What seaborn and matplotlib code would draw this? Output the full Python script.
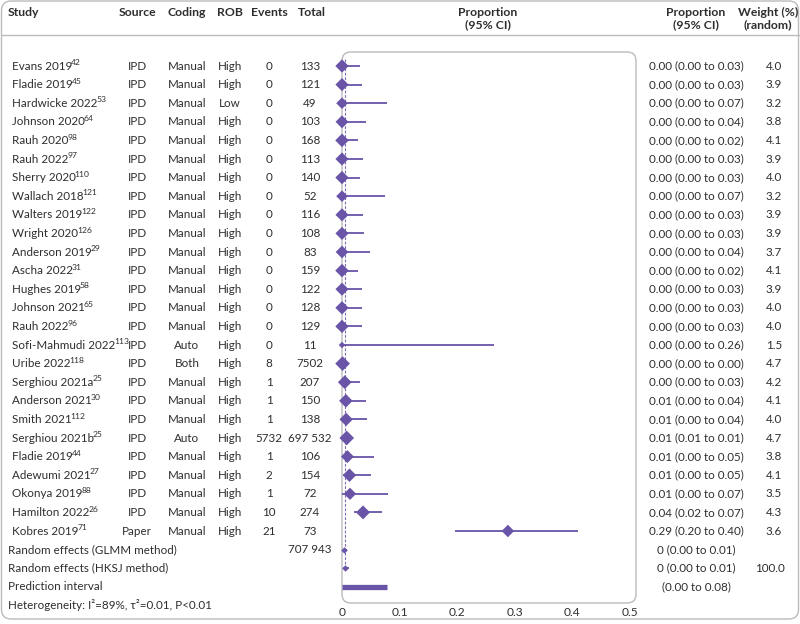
import numpy as np
import pandas as pd
import matplotlib
matplotlib.use("Agg")
import matplotlib.pyplot as plt
import matplotlib.transforms as mtransforms
from matplotlib.patches import FancyBboxPatch
from matplotlib.lines import Line2D
import seaborn as sns

# ---------------- data ----------------
studies = ["Evans 2019", "Fladie 2019", "Hardwicke 2022", "Johnson 2020", "Rauh 2020",
           "Rauh 2022", "Sherry 2020", "Wallach 2018", "Walters 2019", "Wright 2020",
           "Anderson 2019", "Ascha 2022", "Hughes 2019", "Johnson 2021", "Rauh 2022",
           "Sofi-Mahmudi 2022", "Uribe 2022", "Serghiou 2021a", "Anderson 2021", "Smith 2021",
           "Serghiou 2021b", "Fladie 2019", "Adewumi 2021", "Okonya 2019", "Hamilton 2022",
           "Kobres 2019"]
refs = [42, 45, 53, 64, 98, 97, 110, 121, 122, 126, 29, 31, 58, 65, 96, 113, 118, 25, 30,
        112, 25, 44, 27, 88, 26, 71]
sources = ["IPD"] * 25 + ["Paper"]
coding = ["Manual"] * 15 + ["Auto", "Both", "Manual", "Manual", "Manual", "Auto",
                            "Manual", "Manual", "Manual", "Manual", "Manual"]
rob = ["High", "High", "Low"] + ["High"] * 23
events = [0] * 16 + [8, 1, 1, 1, 5732, 1, 2, 1, 10, 21]
totals = ["133", "121", "49", "103", "168", "113", "140", "52", "116", "108", "83", "159",
          "122", "128", "129", "11", "7502", "207", "150", "138", "697 532", "106", "154",
          "72", "274", "73"]
# displayed estimates
est_txt = ["0.00"] * 18 + ["0.01"] * 6 + ["0.04", "0.29"]
lo_txt = ["0.00"] * 20 + ["0.01", "0.00", "0.00", "0.00", "0.02", "0.20"]
hi_txt = ["0.03", "0.03", "0.07", "0.04", "0.02", "0.03", "0.03", "0.07", "0.03", "0.03",
          "0.04", "0.02", "0.03", "0.03", "0.03", "0.26", "0.00", "0.03", "0.04", "0.04",
          "0.01", "0.05", "0.05", "0.07", "0.07", "0.40"]
weights = [4.0, 3.9, 3.2, 3.8, 4.1, 3.9, 4.0, 3.2, 3.9, 3.9, 3.7, 4.1, 3.9, 4.0, 4.0, 1.5,
           4.7, 4.2, 4.1, 4.0, 4.7, 3.8, 4.1, 3.5, 4.3, 3.6]
# plotted positions
est_plot = [0.0] * 16 + [0.001, 0.0048, 0.0067, 0.0072, 0.0082, 0.0094, 0.013, 0.0139,
                         0.0365, 0.288]
lo_plot = [0.0] * 16 + [0.0005, 0.0, 0.0, 0.0, 0.008, 0.0, 0.002, 0.0, 0.020, 0.197]
hi_plot = [0.031, 0.034, 0.078, 0.041, 0.027, 0.036, 0.031, 0.075, 0.036, 0.039, 0.048,
           0.027, 0.034, 0.034, 0.034, 0.264, 0.002, 0.031, 0.041, 0.044, 0.009, 0.056,
           0.051, 0.080, 0.070, 0.410]

summary_labels = ["Random effects (GLMM method)", "Random effects (HKSJ method)"]
summary_est = [0.004, 0.005]
summary_lo = [0.002, 0.002]
summary_hi = [0.008, 0.012]
summary_txt = ["0 (0.00 to 0.01)", "0 (0.00 to 0.01)"]
summary_weight = ["", "100.0"]
summary_total = ["707 943", ""]
pred_lo, pred_hi = 0.0, 0.078
pred_txt = "(0.00 to 0.08)"
pooled_line = 0.005
heterogeneity = "Heterogeneity: I\u00b2=89%, \u03c4\u00b2=0.01, P<0.01"
xticks = [0, 0.1, 0.2, 0.3, 0.4, 0.5]
xtick_labels = ["0", "0.1", "0.2", "0.3", "0.4", "0.5"]

# ---------------- style ----------------
sns.set_theme(style="white")
plt.rcParams["font.family"] = ["Lato", "DejaVu Sans"]

PURPLE = "#6954a8"
TXT = "#2e2e2e"
GRID = "#bbbbbb"
FS = 8.4
HFS = 8.8

W, H = 800, 624
fig = plt.figure(figsize=(W / 100, H / 100), dpi=100)

def fx(px):
    return px / W

def fy(py):
    return 1 - py / H

row0, dy = 66.0, 18.6
ax_top, ax_bot, ax_l, ax_r = 52.0, 603.0, 342.0, 636.0
ax = fig.add_axes([fx(ax_l), fy(ax_bot), fx(ax_r) - fx(ax_l), (ax_bot - ax_top) / H])
ax.set_xlim(0, (ax_r - ax_l) / 576.0)
ax.set_ylim((ax_bot - row0) / dy, (ax_top - row0) / dy)
for s in ax.spines.values():
    s.set_visible(False)
ax.patch.set_alpha(0)

n = len(studies)
df = pd.DataFrame({"row": np.arange(n), "est": est_plot, "lo": lo_plot, "hi": hi_plot,
                   "w": weights})

# CI lines
ax.hlines(df["row"], df["lo"], df["hi"], color=PURPLE, lw=1.3, zorder=3)
# pooled dashed line
ax.vlines(pooled_line, -0.35, n + 1, color=PURPLE, lw=0.8, ls=(0, (2.5, 1.5)), zorder=2,
          alpha=0.85)
# study diamonds
sns.scatterplot(data=df, x="est", y="row", size="w", sizes=(11, 56), size_norm=(1.5, 4.7),
                marker="D", color=PURPLE, edgecolor=PURPLE, linewidth=0, legend=False,
                ax=ax, zorder=4, clip_on=False)
# summary rows
srows = [n, n + 1]
ax.hlines(srows, summary_lo, summary_hi, color=PURPLE, lw=1.3, zorder=3)
sdf = pd.DataFrame({"row": srows, "est": summary_est})
sns.scatterplot(data=sdf, x="est", y="row", marker="D", s=11, color=PURPLE,
                edgecolor=PURPLE, linewidth=0, legend=False, ax=ax, zorder=4,
                clip_on=False)
# prediction interval
ax.hlines([n + 2], pred_lo, pred_hi, color=PURPLE, lw=3.8, zorder=3)

ax.set_xticks(xticks)
ax.set_xticklabels(xtick_labels)
ax.set_yticks([])
ax.set_xlabel("")
ax.set_ylabel("")
ax.tick_params(axis="x", length=0, pad=3, labelsize=8.6, labelcolor=TXT)

# rounded axes box
ax.add_patch(FancyBboxPatch((0, 0), 1, 1, boxstyle="round,pad=0,rounding_size=0.03",
                            transform=ax.transAxes, fill=False, ec=GRID, lw=1.0,
                            clip_on=False, zorder=1,
                            mutation_aspect=(ax_r - ax_l) / (ax_bot - ax_top)))

# outer rounded border & header rule
fig.add_artist(FancyBboxPatch((fx(1.5), fy(619)), fx(798.5) - fx(1.5), fy(1) - fy(619),
                              boxstyle="round,pad=0,rounding_size=0.012",
                              transform=fig.transFigure, fill=False, ec=GRID, lw=1.0,
                              mutation_aspect=W / H))
fig.add_artist(Line2D([fx(1.5), fx(798.5)], [fy(35), fy(35)], color=GRID, lw=1.0,
                      transform=fig.transFigure))

# headers
hdr = dict(fontsize=HFS, fontweight="bold", color=TXT, va="center")
fig.text(fx(8), fy(12), "Study", ha="left", **hdr)
fig.text(fx(137), fy(12), "Source", ha="center", **hdr)
fig.text(fx(187), fy(12), "Coding", ha="center", **hdr)
fig.text(fx(230), fy(12), "ROB", ha="center", **hdr)
fig.text(fx(269), fy(12), "Events", ha="center", **hdr)
fig.text(fx(312), fy(12), "Total", ha="center", **hdr)
fig.text(fx(488), fy(12), "Proportion", ha="center", **hdr)
fig.text(fx(488), fy(25), "(95% CI)", ha="center", **hdr)
fig.text(fx(696), fy(12), "Proportion", ha="center", **hdr)
fig.text(fx(696), fy(25), "(95% CI)", ha="center", **hdr)
fig.text(fx(768), fy(12), "Weight (%)", ha="center", **hdr)
fig.text(fx(768), fy(25), "(random)", ha="center", **hdr)

tr = mtransforms.blended_transform_factory(fig.transFigure, ax.transData)
cell = dict(fontsize=FS, color=TXT, va="center", transform=tr)
renderer = fig.canvas.get_renderer()
names = []
for i in range(n):
    names.append(fig.text(fx(12), i, studies[i], ha="left", **cell))
    fig.text(fx(137), i, sources[i], ha="center", **cell)
    fig.text(fx(187), i, coding[i], ha="center", **cell)
    fig.text(fx(230), i, rob[i], ha="center", **cell)
    fig.text(fx(269), i, str(events[i]), ha="center", **cell)
    fig.text(fx(310), i, totals[i], ha="center", **cell)
    fig.text(fx(696), i, f"{est_txt[i]} ({lo_txt[i]} to {hi_txt[i]})", ha="center", **cell)
    fig.text(fx(774), i, f"{weights[i]:.1f}", ha="center", **cell)

sup_tr = mtransforms.offset_copy(tr, fig=fig, x=0, y=3.4, units="dots")
for i, t in enumerate(names):
    bb = t.get_window_extent(renderer=renderer)
    fig.text(fx(bb.x1 - 1.2), i, str(refs[i]), ha="left", va="center", fontsize=6.1,
             color=TXT, transform=sup_tr)

for k, r in enumerate(srows):
    fig.text(fx(8), r, summary_labels[k], ha="left", **cell)
    fig.text(fx(310), r, summary_total[k], ha="center", **cell)
    fig.text(fx(696), r, summary_txt[k], ha="center", **cell)
    fig.text(fx(770), r, summary_weight[k], ha="center", **cell)
fig.text(fx(8), n + 2, "Prediction interval", ha="left", **cell)
fig.text(fx(696), n + 2, pred_txt, ha="center", **cell)
fig.text(fx(8), n + 3, heterogeneity, ha="left", **cell)

fig.savefig("out.png", dpi=100)
